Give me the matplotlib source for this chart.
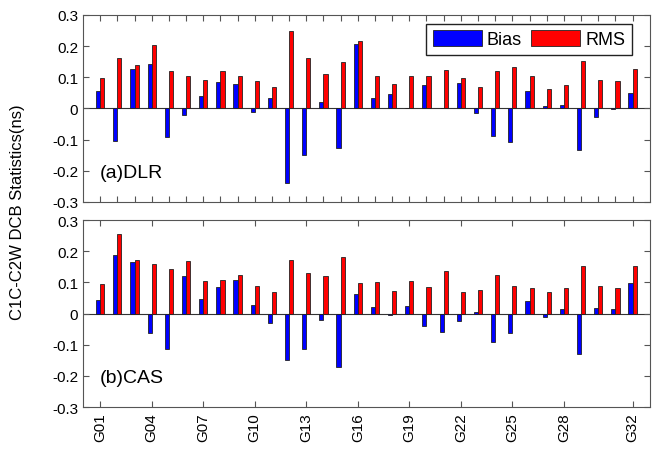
import matplotlib
matplotlib.use("Agg")
import matplotlib.pyplot as plt
import numpy as np

plt.rcParams["font.family"] = ["Liberation Sans", "DejaVu Sans"]

sats = ["G%02d" % i for i in range(1, 33)]
tick_sats = ["G01", "G04", "G07", "G10", "G13", "G16", "G19", "G22", "G25", "G28", "G32"]

# DLR products
dlr_bias = [0.056, -0.105, 0.128, 0.143, -0.093, -0.022, 0.039, 0.084, 0.080, -0.013,
            0.034, -0.240, -0.151, 0.021, -0.126, 0.206, 0.035, 0.047, 0.001, 0.074,
            0.002, 0.082, -0.016, -0.087, -0.109, 0.056, 0.007, 0.012, -0.134, -0.026,
            -0.002, 0.051]
dlr_rms = [0.097, 0.161, 0.141, 0.203, 0.120, 0.103, 0.090, 0.120, 0.104, 0.088,
           0.070, 0.249, 0.161, 0.109, 0.149, 0.216, 0.105, 0.078, 0.103, 0.103,
           0.124, 0.097, 0.070, 0.120, 0.134, 0.103, 0.062, 0.074, 0.152, 0.090,
           0.087, 0.127]

# CAS products
cas_bias = [0.044, 0.189, 0.165, -0.062, -0.114, 0.121, 0.047, 0.084, 0.108, 0.029,
            -0.029, -0.150, -0.112, -0.021, -0.171, 0.064, 0.020, -0.004, 0.026, -0.040,
            -0.060, -0.025, 0.004, -0.090, -0.062, 0.042, -0.012, 0.016, -0.130, 0.019,
            0.016, 0.098]
cas_rms = [0.095, 0.256, 0.172, 0.158, 0.144, 0.169, 0.106, 0.109, 0.124, 0.089,
           0.068, 0.172, 0.130, 0.120, 0.182, 0.098, 0.102, 0.074, 0.106, 0.084,
           0.137, 0.071, 0.077, 0.124, 0.090, 0.083, 0.068, 0.083, 0.154, 0.088,
           0.083, 0.152]

x = np.arange(1, len(sats) + 1)
w = 0.24
spine_col = "#555555"

fig = plt.figure(figsize=(6.66, 4.56), dpi=100)
ax1 = fig.add_axes([0.1246, 0.555, 0.851, 0.410])
ax2 = fig.add_axes([0.1246, 0.105, 0.851, 0.410])

for ax, bias, rms, tag in [(ax1, dlr_bias, dlr_rms, "(a)DLR"),
                           (ax2, cas_bias, cas_rms, "(b)CAS")]:
    ax.bar(x - w / 2, bias, w, color="#0000ff", edgecolor="#222222", lw=0.6, label="Bias")
    ax.bar(x + w / 2, rms, w, color="#ff0000", edgecolor="#222222", lw=0.6, label="RMS")
    ax.axhline(0, color="#333333", lw=0.8, zorder=0.5)
    ax.set_xlim(0, 33)
    ax.set_ylim(-0.3, 0.3)
    ax.set_yticks(np.arange(-0.3, 0.31, 0.1))
    ax.set_yticklabels(["-0.3", "-0.2", "-0.1", "0", "0.1", "0.2", "0.3"])
    ax.tick_params(direction="in", top=True, right=True, labelsize=11,
                   color=spine_col, length=4)
    for s in ax.spines.values():
        s.set_color(spine_col)
    ax.text(1.0, -0.205, tag, fontsize=14, va="center", ha="left")

ax1.set_xticks(x)
ax1.set_xticklabels([])

ax2.set_xticks([sats.index(s) + 1 for s in tick_sats])
ax2.set_xticklabels(tick_sats, rotation=90, fontsize=11)

ax1.legend(loc="upper right", ncol=2, fontsize=13, frameon=True, fancybox=False,
           edgecolor="#222222", framealpha=1, handlelength=2.7, handleheight=0.95,
           columnspacing=0.5, handletextpad=0.3, borderpad=0.35,
           borderaxespad=0, bbox_to_anchor=(0.968, 0.952))

fig.text(0.026, 0.535, "C1C-C2W DCB Statistics(ns)", rotation=90,
         va="center", ha="center", fontsize=12)

fig.savefig("out.png", dpi=100)
